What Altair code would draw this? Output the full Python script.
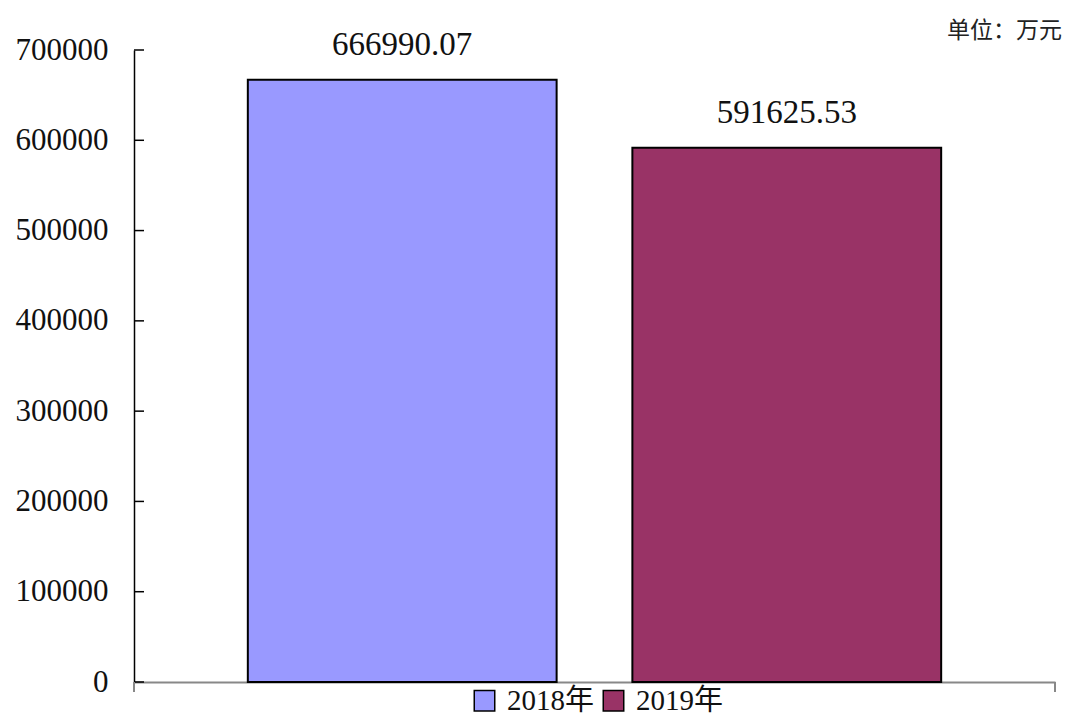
import altair as alt
import pandas as pd

years = ["2018年", "2019年"]
values = [666990.07, 591625.53]
colors = ["#9999FF", "#993366"]
y_ticks = [0, 100000, 200000, 300000, 400000, 500000, 600000, 700000]

df = pd.DataFrame({"year": years, "value": values})
ticks_df = pd.DataFrame({"t": y_ticks})

W, H = 921, 632
FONT = "Liberation Serif, Noto Sans CJK SC"

yscale = alt.Scale(domain=[0, 700000], nice=False, zero=True)
xscale = alt.Scale(domain=years, paddingInner=0.197, paddingOuter=0.296)

base = alt.Chart(df)

bars = base.mark_bar(stroke="black", strokeWidth=2).encode(
    x=alt.X("year:N", scale=xscale, sort=years,
            axis=alt.Axis(title=None, labels=False, ticks=False,
                          domainColor="#888888", domainWidth=2)),
    y=alt.Y("value:Q", scale=yscale,
            axis=alt.Axis(title=None, values=y_ticks, ticks=False, grid=False,
                          domainColor="black", domainWidth=1.5,
                          labelFont=FONT, labelFontSize=31, labelColor="#111111",
                          labelPadding=26, format="d")),
    color=alt.Color("year:N", scale=alt.Scale(domain=years, range=colors),
                    legend=alt.Legend(title=None, orient="none", direction="horizontal",
                                      legendX=336, legendY=636,
                                      symbolType="square", symbolSize=420,
                                      symbolStrokeColor="black", symbolStrokeWidth=1.5,
                                      symbolOpacity=1,
                                      labelFont=FONT, labelFontSize=29, labelColor="#111111",
                                      labelOffset=8, columnPadding=4, padding=0)),
)

labels = base.mark_text(baseline="bottom", dy=-18, font=FONT, fontSize=33,
                        color="#111111").encode(
    x=alt.X("year:N", scale=xscale, sort=years),
    y=alt.Y("value:Q", scale=yscale),
    text=alt.Text("value:Q", format=".2f"),
)

tick_rules = alt.Chart(ticks_df).mark_rule(color="black", strokeWidth=1.5).encode(
    y=alt.Y("t:Q", scale=yscale),
    x=alt.value(0),
    x2=alt.value(10),
)

end_left = base.mark_rule(color="#888888", strokeWidth=2).encode(
    x=alt.value(0), y=alt.value(H), y2=alt.value(H + 10))
end_right = base.mark_rule(color="#888888", strokeWidth=2).encode(
    x=alt.value(W), y=alt.value(H), y2=alt.value(H + 10))

chart = alt.layer(bars, labels, tick_rules, end_left, end_right).properties(
    width=W,
    height=H,
    padding={"left": 126, "top": 42, "right": 7, "bottom": 35},
    autosize=alt.AutoSizeParams(type="none"),
    title=alt.TitleParams("单位：万元", anchor="end", font="Noto Sans CJK SC",
                          fontSize=23, fontWeight="normal", color="#222222",
                          offset=10, dx=6, dy=24),
).configure_view(strokeWidth=0)

chart.save("out.html", embed_options={"renderer": "svg", "actions": False})
